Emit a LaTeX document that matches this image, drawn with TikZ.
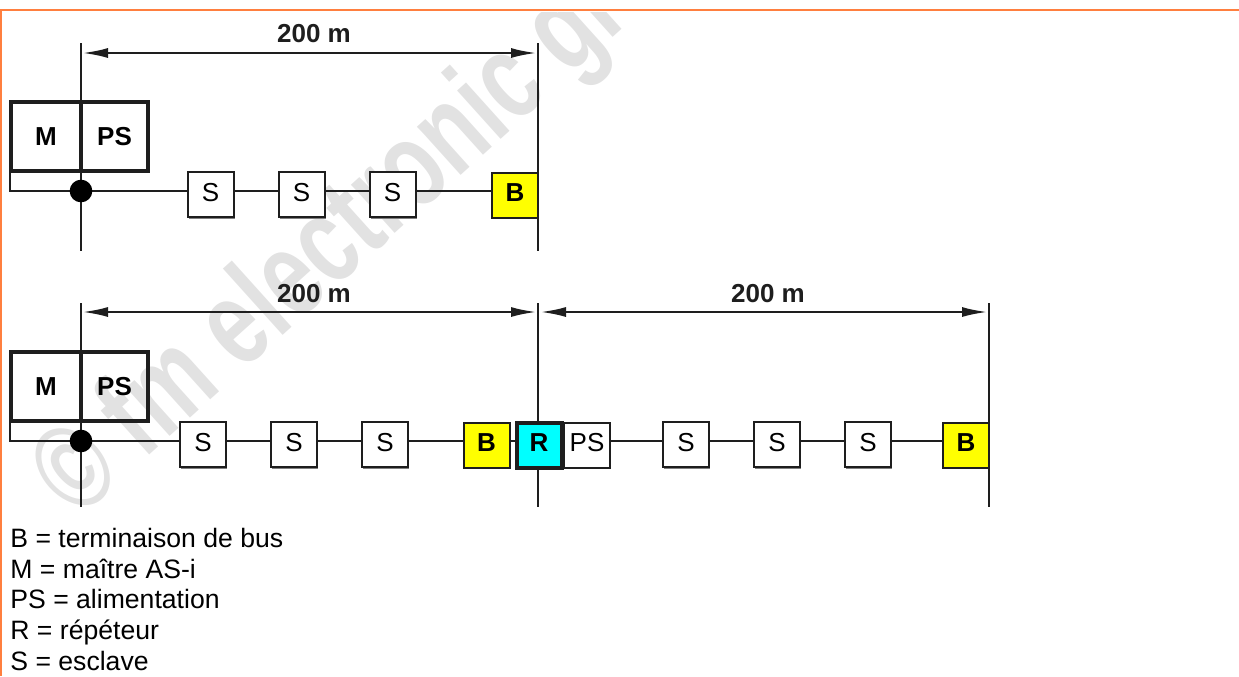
\documentclass[tikz,border=0pt]{standalone}
\usepackage{fontspec}
\setmainfont{Liberation Sans}
\usetikzlibrary{arrows.meta, shadows}

\definecolor{frameOrange}{RGB}{255,127,63}
\definecolor{lineDark}{RGB}{30,30,30}
\definecolor{markGray}{RGB}{226,226,226}
\definecolor{termYellow}{RGB}{255,255,0}
\definecolor{repCyan}{RGB}{0,255,255}

\tikzset{
  wire/.style={lineDark, line width=1.4pt},
  thinwire/.style={lineDark, line width=1pt},
  mast/.style={lineDark, line width=1.4pt},
  dimline/.style={lineDark, line width=1.3pt, {Latex[length=13pt,width=5pt]}-{Latex[length=13pt,width=5pt]}},
  slavebox/.style={draw=lineDark, line width=1pt, fill=white, minimum width=23pt, minimum height=22.5pt, inner sep=0pt, text height=9.3pt, text depth=2.5pt, font=\fontsize{13}{13}\selectfont, drop shadow={shadow xshift=0.6pt, shadow yshift=-0.8pt, fill=gray, opacity=1}},
  termbox/.style={slavebox, fill=termYellow, font=\fontsize{13}{13}\selectfont\bfseries},
  headbox/.style={draw=lineDark, line width=2pt, minimum height=34.5pt, inner sep=0pt, font=\fontsize{13}{13}\selectfont\bfseries},
  legend/.style={anchor=base west, inner sep=0pt, font=\fontsize{13.3}{13.3}\selectfont},
  dimlabel/.style={inner sep=0pt, font=\fontsize{13}{13}\selectfont\bfseries, lineDark},
}

\begin{document}
\begin{tikzpicture}[x=0.5pt, y=-0.5pt]
\useasboundingbox (0,0) rectangle (1239,676);

% Watermark
\begin{scope}
\clip (2,12) rectangle (1239,676);
\node[rotate=42, anchor=west, inner sep=0pt, text=markGray, font=\fontsize{44}{44}\selectfont\bfseries] (mark) at (56,497) {\scalebox{1}[1.4]{© fm electronic gr}};
\end{scope}

% Orange frame
\coordinate (frameLeft) at (1,676);
\coordinate (frameCorner) at (1,10);
\coordinate (frameRight) at (1239,10);
\draw[frameOrange, line width=1pt] (frameLeft) -- (frameCorner) -- (frameRight);

%%%%%%%%%%%%%% First bus %%%%%%%%%%%%%%

% Define coordinates
\coordinate (mastTopA) at (81,43);
\coordinate (mastBotA) at (81,251);
\coordinate (mastTopB) at (538,43);
\coordinate (mastBotB) at (538,251);
\coordinate (dimA) at (82,53);
\coordinate (dimB) at (537,53);
\coordinate (tapA) at (81,191);
\coordinate (cornerA) at (10,191);
\coordinate (cornerTopA) at (10,171);

% Masts
\draw[mast] (mastTopA) -- (mastBotA);
\draw[mast] (mastTopB) -- (mastBotB);

% Dimension
\draw[dimline] (dimA) -- (dimB);
\node[dimlabel] (lenA) at (314,34) {200 m};

% Master and power supply
\node[headbox, minimum width=35pt] (mA) at (46,136.5) {M};
\node[headbox, minimum width=33.5pt] (psA) at (114.5,136.5) {PS};

% Bus line
\node[slavebox] (sA1) at (210.5,194.5) {S};
\node[slavebox] (sA2) at (301.5,194.5) {S};
\node[slavebox] (sA3) at (392.5,194.5) {S};
\node[termbox] (bA) at (515,195) {B};
\draw[thinwire] (cornerTopA) -- (cornerA) -- (tapA);
\draw[wire] (tapA) -- (tapA -| sA1.west);
\draw[wire] (tapA -| sA1.east) -- (tapA -| sA2.west);
\draw[wire] (tapA -| sA2.east) -- (tapA -| sA3.west);
\draw[wire] (tapA -| sA3.east) -- (tapA -| bA.west);
\node[circle, fill=black, inner sep=4pt] (dotA) at (tapA) {};

%%%%%%%%%%%%%% Second bus %%%%%%%%%%%%%%

\coordinate (mastTopC) at (81,303);
\coordinate (mastBotC) at (81,507);
\coordinate (mastTopD) at (538,303);
\coordinate (mastBotD) at (538,507);
\coordinate (mastTopE) at (989,303);
\coordinate (mastBotE) at (989,507);
\coordinate (dimC) at (82,312);
\coordinate (dimD) at (537,312);
\coordinate (dimF) at (540,312);
\coordinate (dimE) at (988,312);
\coordinate (tapC) at (81,441);
\coordinate (cornerC) at (10,441);
\coordinate (cornerTopC) at (10,421);

% Masts
\draw[mast] (mastTopC) -- (mastBotC);
\draw[mast] (mastTopD) -- (mastBotD);
\draw[mast] (mastTopE) -- (mastBotE);

% Dimensions
\draw[dimline] (dimC) -- (dimD);
\draw[dimline] (dimF) -- (dimE);
\node[dimlabel] (lenC) at (314,294) {200 m};
\node[dimlabel] (lenD) at (768,294) {200 m};

% Master and power supply
\node[headbox, minimum width=35pt] (mC) at (46,386.5) {M};
\node[headbox, minimum width=33.5pt] (psC) at (114.5,386.5) {PS};

% Bus line
\node[slavebox] (sC1) at (203,444.5) {S};
\node[slavebox] (sC2) at (294,444.5) {S};
\node[slavebox] (sC3) at (385,444.5) {S};
\node[termbox] (bC) at (486.5,445) {B};
\node[slavebox] (psD) at (587,445) {PS};
\node[slavebox] (sD1) at (686,444.5) {S};
\node[slavebox] (sD2) at (777,444.5) {S};
\node[slavebox] (sD3) at (868,444.5) {S};
\node[termbox] (bD) at (966,445) {B};
\draw[thinwire] (cornerTopC) -- (cornerC) -- (tapC);
\draw[wire] (tapC) -- (tapC -| sC1.west);
\draw[wire] (tapC -| sC1.east) -- (tapC -| sC2.west);
\draw[wire] (tapC -| sC2.east) -- (tapC -| sC3.west);
\draw[wire] (tapC -| sC3.east) -- (tapC -| bC.west);
\draw[wire] (tapC -| psD.east) -- (tapC -| sD1.west);
\draw[wire] (tapC -| sD1.east) -- (tapC -| sD2.west);
\draw[wire] (tapC -| sD2.east) -- (tapC -| sD3.west);
\draw[wire] (tapC -| sD3.east) -- (tapC -| bD.west);
\node[circle, fill=black, inner sep=4pt] (dotC) at (tapC) {};

% Repeater
\node[draw=lineDark, line width=2pt, fill=repCyan, minimum width=22.5pt, minimum height=22.5pt, inner sep=0pt, text height=9.3pt, text depth=2.5pt, font=\fontsize{13}{13}\selectfont\bfseries] (rD) at (539,445) {R};
\draw[wire] (tapC -| bC.east) -- (tapC -| rD.west);

% Legend
\node[legend] (keyB) at (10,547) {B = terminaison de bus};
\node[legend] (keyM) at (10,578) {M = maître AS-i};
\node[legend] (keyPS) at (10,608.5) {PS = alimentation};
\node[legend] (keyR) at (10,639.5) {R = répéteur};
\node[legend] (keyS) at (10,670) {S = esclave};

\end{tikzpicture}
\end{document}
